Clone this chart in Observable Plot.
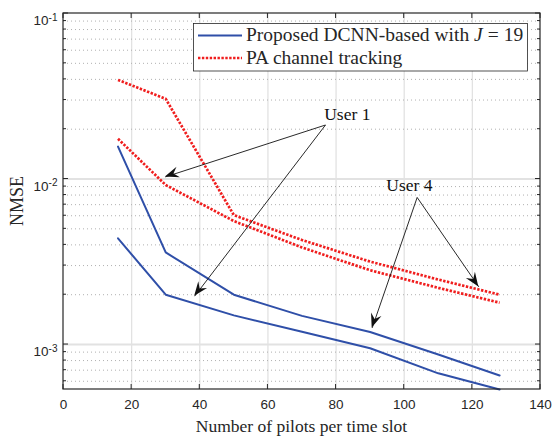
<!DOCTYPE html>
<html><head><meta charset="utf-8">
<script src="https://cdn.jsdelivr.net/npm/d3@7"></script>
<script src="https://cdn.jsdelivr.net/npm/@observablehq/plot@0.6"></script>
<style>
html,body{margin:0;padding:0;background:#fff;}
#chart{position:relative;width:552px;height:438px;}
</style></head><body><div id="chart"></div>
<script>
// ---- data ----
const pilots = [16, 30, 50, 70, 90, 110, 128];
const dcnnUser1 = [4.38e-3, 2.0e-3, 1.5e-3, 1.195e-3, 9.5e-4, 6.7e-4, 5.35e-4];
const dcnnUser4 = [1.57e-2, 3.6e-3, 2.0e-3, 1.49e-3, 1.19e-3, 8.7e-4, 6.5e-4];
const paUser1 = [1.75e-2, 9.2e-3, 5.57e-3, 3.86e-3, 2.81e-3, 2.2e-3, 1.79e-3];
const paUser4 = [3.97e-2, 3.05e-2, 6.05e-3, 4.28e-3, 3.17e-3, 2.47e-3, 2.0e-3];
const xTicks = [0, 20, 40, 60, 80, 100, 120, 140];
const yMajorTicks = [1e-3, 1e-2, 1e-1];
const yTickLabels = ["10^-3", "10^-2", "10^-1"];
const yMinorTicks = [6e-4, 7e-4, 8e-4, 9e-4, 2e-3, 3e-3, 4e-3, 5e-3, 6e-3, 7e-3, 8e-3, 9e-3, 2e-2, 3e-2, 4e-2, 5e-2, 6e-2, 7e-2, 8e-2, 9e-2];
const legendLabels = ["Proposed DCNN-based with ", "PA channel tracking"];
const annotText = ["User 1", "User 4"];
const annotX = [83.3, 101.5];
const annotY = [0.0247, 0.0092];
const arrowX1 = [76.9, 76.9, 103.8, 103.8];
const arrowY1 = [0.0212, 0.0212, 0.00774, 0.00774];
const arrowX2 = [29.9, 38.5, 90.6, 121.9];
const arrowY2 = [0.0103, 0.00196, 0.00126, 0.00223];
const xLabel = "Number of pilots per time slot";
const yLabel = "NMSE";

const BLUE = "#2f4fa8", RED = "#f01e1e";

// ---- tables built from the arrays ----
const dcnnRows = [], paRows = [];
pilots.forEach((p, i) => {
  dcnnRows.push({x: p, y: dcnnUser1[i], series: "User 1"});
  dcnnRows.push({x: p, y: dcnnUser4[i], series: "User 4"});
  paRows.push({x: p, y: paUser1[i], series: "User 1"});
  paRows.push({x: p, y: paUser4[i], series: "User 4"});
});
const arrows = arrowX1.map((d, i) => ({x1: arrowX1[i], y1: arrowY1[i], x2: arrowX2[i], y2: arrowY2[i]}));
const annots = annotText.map((t, i) => ({text: t, x: annotX[i], y: annotY[i]}));

function arrowHeads(index, scales) {
  const g = d3.create("svg:g").attr("fill", "#111");
  arrows.forEach(a => {
    const x1 = scales.x(a.x1), y1 = scales.y(a.y1), x2 = scales.x(a.x2), y2 = scales.y(a.y2);
    const ang = Math.atan2(y2 - y1, x2 - x1) * 180 / Math.PI;
    g.append("path").attr("d", "M0,0L-14,-5.5L-9,0L-14,5.5Z")
      .attr("transform", `translate(${x2},${y2}) rotate(${ang})`);
  });
  return g.node();
}

function frameTicks(index, scales, values, dims) {
  const {width, height, marginLeft, marginRight, marginTop, marginBottom} = dims;
  const L = marginLeft, R = width - marginRight, T = marginTop, B = height - marginBottom;
  const g = d3.create("svg:g").attr("stroke", "#262626").attr("fill", "none").attr("stroke-width", 1);
  xTicks.forEach(t => {
    const x = scales.x(t);
    g.append("line").attr("x1", x).attr("x2", x).attr("y1", B).attr("y2", B - 5);
    g.append("line").attr("x1", x).attr("x2", x).attr("y1", T).attr("y2", T + 5);
  });
  yMajorTicks.forEach(v => {
    const y = scales.y(v);
    g.append("line").attr("x1", L).attr("x2", L + 5).attr("y1", y).attr("y2", y);
    g.append("line").attr("x1", R).attr("x2", R - 5).attr("y1", y).attr("y2", y);
  });
  yMinorTicks.forEach(v => {
    const y = scales.y(v);
    g.append("line").attr("x1", L).attr("x2", L + 3).attr("y1", y).attr("y2", y);
    g.append("line").attr("x1", R).attr("x2", R - 3).attr("y1", y).attr("y2", y);
  });
  g.append("rect").attr("x", L).attr("y", T).attr("width", R - L).attr("height", B - T).attr("stroke-width", 1.2);
  return g.node();
}

const plot = Plot.plot({
  width: 552, height: 438,
  marginLeft: 63, marginRight: 12, marginTop: 13, marginBottom: 49,
  x: {domain: [0, 140]},
  y: {type: "log", domain: [5.35e-4, 0.1]},
  style: {fontFamily: "'Liberation Sans', Arial, sans-serif", fontSize: "13.5px", color: "#262626", background: "white"},
  marks: [
    Plot.ruleX(xTicks.slice(1, -1), {stroke: "#e2e2e2", strokeWidth: 1.3}),
    Plot.ruleY(yMinorTicks, {stroke: "#b0b0b0", strokeWidth: 1, strokeDasharray: "1,3"}),
    Plot.ruleY(yMajorTicks.slice(0, -1), {stroke: "#e2e2e2", strokeWidth: 2}),
    Plot.axisX({ticks: xTicks, tickSize: 0, tickPadding: 10, label: null, tickFormat: d => String(d)}),
    Plot.axisY({ticks: yMajorTicks, tickSize: 0, tickPadding: 6, label: null,
      tickFormat: d => yTickLabels[yMajorTicks.indexOf(d)]}),
    Plot.line(dcnnRows, {x: "x", y: "y", z: "series", stroke: BLUE, strokeWidth: 2}),
    Plot.line(paRows, {x: "x", y: "y", z: "series", stroke: RED, strokeWidth: 2.7, strokeDasharray: "2.4,1.5", strokeLinecap: "butt", strokeLinejoin: "miter"}),
    Plot.link(arrows, {x1: "x1", y1: "y1", x2: "x2", y2: "y2", stroke: "#111", strokeWidth: 0.9}),
    arrowHeads,
    Plot.text(annots, {x: "x", y: "y", text: "text", fontFamily: "'Liberation Serif', 'Times New Roman', serif", fontSize: 17.5, fill: "#111"}),
    frameTicks
  ]
});

document.getElementById("chart").appendChild(plot);
const svg = d3.select(plot);

// superscript tick labels
svg.selectAll('g[aria-label="y-axis tick label"] text').each(function() {
  const t = d3.select(this);
  const s = t.text();
  const parts = s.split("^");
  if (parts.length === 2) {
    t.text(parts[0]);
    t.attr("dy", "0.55em");
    t.append("tspan").attr("dy", "-0.45em").attr("font-size", "10px").text(parts[1]);
  }
});

// axis titles
const serif = "'Liberation Serif', 'Times New Roman', serif";
svg.append("text").attr("x", 301.5).attr("y", 431.5).attr("text-anchor", "middle")
  .attr("font-family", serif).attr("font-size", 17.5).attr("fill", "#262626").text(xLabel);
svg.append("text").attr("transform", "translate(23,201) rotate(-90)").attr("text-anchor", "middle")
  .attr("font-family", serif).attr("font-size", 18).attr("fill", "#262626").text(yLabel);

// legend
const lg = svg.append("g").attr("text-anchor", "start");
lg.append("rect").attr("x", 193.5).attr("y", 23.5).attr("width", 334).attr("height", 47.5)
  .attr("fill", "white").attr("stroke", "#262626").attr("stroke-width", 0.8);
lg.append("line").attr("x1", 198).attr("x2", 242).attr("y1", 35.5).attr("y2", 35.5)
  .attr("stroke", BLUE).attr("stroke-width", 2);
lg.append("line").attr("x1", 198).attr("x2", 242).attr("y1", 58).attr("y2", 58)
  .attr("stroke", RED).attr("stroke-width", 2.7).attr("stroke-dasharray", "2.4,1.5").attr("stroke-linecap", "butt");
const t1 = lg.append("text").attr("x", 246).attr("y", 41).attr("text-anchor", "start").attr("font-family", serif).attr("font-size", 19.5).attr("fill", "#262626");
t1.append("tspan").text(legendLabels[0]);
t1.append("tspan").attr("font-style", "italic").text("J");
t1.append("tspan").attr("dx", 5).text("=");
t1.append("tspan").attr("dx", 5).text("19");
lg.append("text").attr("x", 246).attr("y", 64).attr("text-anchor", "start").attr("font-family", serif).attr("font-size", 19.5).attr("fill", "#262626").text(legendLabels[1]);
</script>
</body></html>
